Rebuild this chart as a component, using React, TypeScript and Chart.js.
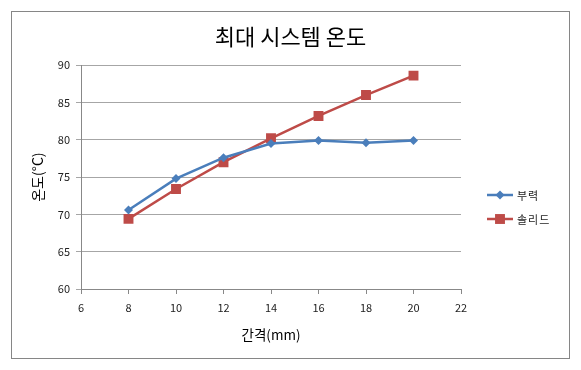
import React, { useEffect, useRef } from "react";
import { Chart, registerables } from "chart.js";

Chart.register(...registerables);

const chartTitle = "최대 시스템 온도";
const xTitle = "간격(mm)";
const yTitle = "온도(°C)";
const seriesNames = ["부력", "솔리드"];
const gapValues = [8, 10, 12, 14, 16, 18, 20];
const buoyancyTemps = [70.6, 74.8, 77.6, 79.5, 79.9, 79.6, 79.9];
const solidTemps = [69.4, 73.4, 77.0, 80.2, 83.2, 86.0, 88.6];
const seriesColors = ["#4A7EBB", "#BE4B48"];
const seriesPointStyles = ["rectRot", "rect"];
const seriesPointRadius = [4.5, 7];

const FONT = "'Noto Sans CJK KR', 'Noto Sans', sans-serif";

const framePlugin = {
  id: "frame",
  beforeDraw(chart: any) {
    const ctx = chart.ctx;
    ctx.save();
    ctx.fillStyle = "#ffffff";
    ctx.fillRect(0, 0, chart.width, chart.height);
    ctx.strokeStyle = "#868686";
    ctx.lineWidth = 1;
    ctx.strokeRect(11.5, 11.5, chart.width - 23, chart.height - 23);
    ctx.restore();
  },
};

function drawMarker(ctx: CanvasRenderingContext2D, style: string, x: number, y: number, r: number) {
  ctx.beginPath();
  if (style === "rect") {
    const s = Math.SQRT1_2 * r;
    ctx.rect(x - s, y - s, 2 * s, 2 * s);
  } else {
    ctx.moveTo(x - r, y);
    ctx.lineTo(x, y - r);
    ctx.lineTo(x + r, y);
    ctx.lineTo(x, y + r);
    ctx.closePath();
  }
  ctx.fill();
}

const legendPlugin = {
  id: "sideLegend",
  afterDraw(chart: any) {
    const ctx = chart.ctx;
    const area = chart.chartArea;
    const x0 = area.right + 26;
    const n = chart.data.datasets.length;
    const spacing = 24;
    const yCenter = 207;
    ctx.save();
    chart.data.datasets.forEach((ds: any, i: number) => {
      const y = yCenter - ((n - 1) * spacing) / 2 + i * spacing;
      ctx.strokeStyle = ds.borderColor;
      ctx.fillStyle = ds.backgroundColor;
      ctx.lineWidth = 2.5;
      ctx.beginPath();
      ctx.moveTo(x0, y);
      ctx.lineTo(x0 + 26, y);
      ctx.stroke();
      drawMarker(ctx, ds.pointStyle, x0 + 13, y, ds.pointRadius);
      ctx.fillStyle = "#222";
      ctx.font = `11px ${FONT}`;
      ctx.textBaseline = "middle";
      ctx.textAlign = "left";
      (ctx as any).letterSpacing = "1px";
      ctx.fillText(ds.label, x0 + 30, y + 1);
    });
    ctx.restore();
  },
};

export default function App() {
  const ref = useRef<HTMLCanvasElement | null>(null);

  useEffect(() => {
    if (!ref.current) return;
    const datasets = [buoyancyTemps, solidTemps].map((vals, i) => ({
      label: seriesNames[i],
      data: gapValues.map((x, j) => ({ x, y: vals[j] })),
      borderColor: seriesColors[i],
      backgroundColor: seriesColors[i],
      borderWidth: 2.5,
      pointStyle: seriesPointStyles[i],
      pointRadius: seriesPointRadius[i],
      pointBorderWidth: 0,
      tension: 0,
    }));
    const chart = new Chart(ref.current, {
      type: "line",
      data: { datasets } as any,
      options: {
        responsive: false,
        animation: false,
        layout: { padding: { left: 12, right: 12, top: 12, bottom: 12 } },
        plugins: {
          legend: { display: false },
          tooltip: { enabled: false },
          title: {
            display: true,
            text: chartTitle,
            color: "#000",
            font: { family: FONT, size: 22, weight: "normal", lineHeight: 1.1 },
            padding: { top: 13, bottom: 16 },
          },
        },
        scales: {
          x: {
            type: "linear",
            min: 6,
            max: 22,
            ticks: { stepSize: 2, color: "#222", font: { family: FONT, size: 11 }, padding: 7 },
            grid: { drawOnChartArea: false, color: "#888", tickLength: 5 },
            border: { color: "#888" },
            title: {
              display: true,
              text: xTitle,
              color: "#000",
              font: { family: FONT, size: 13.5 },
              padding: { top: 0, bottom: 15 },
            },
            afterFit(scale: any) {
              scale.height = 69;
            },
          },
          y: {
            min: 60,
            max: 90,
            ticks: { stepSize: 5, color: "#222", font: { family: FONT, size: 11 }, padding: 6 },
            grid: { color: "#A6A6A6", tickLength: 5 },
            border: { color: "#888" },
            title: {
              display: true,
              text: yTitle,
              color: "#000",
              font: { family: FONT, size: 14 },
              padding: { top: 17, bottom: 0 },
            },
            afterFit(scale: any) {
              scale.width = 69;
            },
          },
          legendSpace: {
            type: "linear",
            position: "right",
            display: true,
            ticks: { display: false },
            grid: { display: false },
            border: { display: false },
            afterFit(scale: any) {
              scale.width = 108;
            },
          },
        },
      } as any,
      plugins: [framePlugin, legendPlugin],
    });
    return () => chart.destroy();
  }, []);

  return (
    <div style={{ position: "fixed", left: 0, top: 0, width: 581, height: 370 }}>
      <canvas ref={ref} width={581} height={370} style={{ width: 581, height: 370 }} />
    </div>
  );
}
